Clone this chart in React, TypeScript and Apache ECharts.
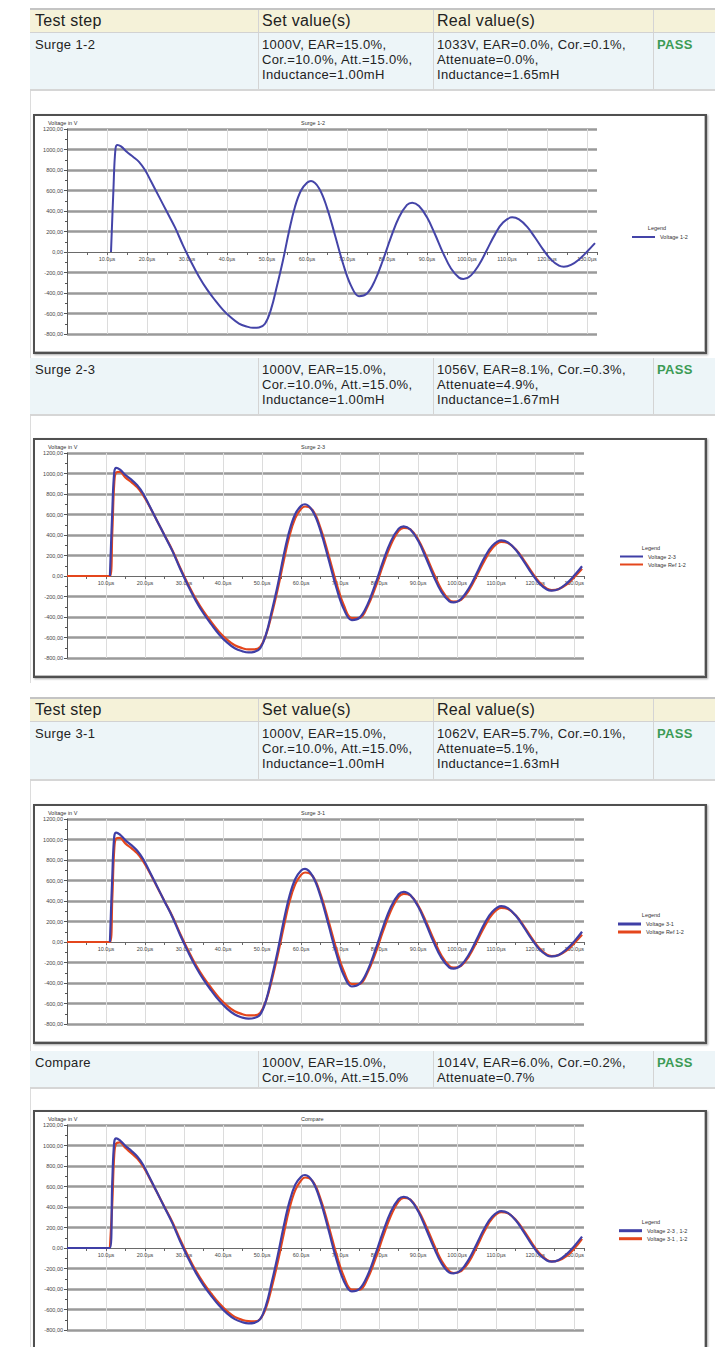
import React, { useEffect, useRef } from "react";
import * as echarts from "echarts";

// ---------- data ----------
const HEADER = ["Test step", "Set value(s)", "Real value(s)", ""];
const STEP_NAMES = ["Surge 1-2", "Surge 2-3", "Surge 3-1", "Compare"];
const SET_VALUES = [
  ["1000V, EAR=15.0%,", "Cor.=10.0%, Att.=15.0%,", "Inductance=1.00mH"],
  ["1000V, EAR=15.0%,", "Cor.=10.0%, Att.=15.0%,", "Inductance=1.00mH"],
  ["1000V, EAR=15.0%,", "Cor.=10.0%, Att.=15.0%,", "Inductance=1.00mH"],
  ["1000V, EAR=15.0%,", "Cor.=10.0%, Att.=15.0%"],
];
const REAL_VALUES = [
  ["1033V, EAR=0.0%, Cor.=0.1%,", "Attenuate=0.0%,", "Inductance=1.65mH"],
  ["1056V, EAR=8.1%, Cor.=0.3%,", "Attenuate=4.9%,", "Inductance=1.67mH"],
  ["1062V, EAR=5.7%, Cor.=0.1%,", "Attenuate=5.1%,", "Inductance=1.63mH"],
  ["1014V, EAR=6.0%, Cor.=0.2%,", "Attenuate=0.7%"],
];
const RESULTS = ["PASS", "PASS", "PASS", "PASS"];
const CHART_TITLES = ["Surge 1-2", "Surge 2-3", "Surge 3-1", "Compare"];
const Y_AXIS_NAME = "Voltage in V";
const LEGEND_TITLE = "Legend";

// time in µs
const TIME = [0, 11, 11.6, 12.1, 12.6, 13.5, 15, 16.5, 18, 19.5, 21, 23, 25, 27, 29, 31, 33, 35, 37, 39, 41, 43, 45, 46.5, 48, 49.5, 51, 52.5, 54, 55.5, 57, 58.5, 60, 61, 63, 65, 67, 69, 71, 73, 75, 77, 79, 81, 83, 85, 86.3, 88, 90, 92, 94, 96, 98, 99.1, 101, 103, 105, 107, 109, 111.3, 113, 115, 117, 119, 121, 123, 124.2, 126, 128, 130, 132];

// voltages in V
const V12 = [null, 0, 600, 1000, 1044, 1030, 975, 930, 880, 800, 690, 540, 390, 240, 65, -95, -241, -365, -470, -565, -640, -698, -728, -740, -736, -700, -560, -330, -80, 200, 442, 600, 675, 693, 623, 431, 164, -112, -328, -431, -405, -277, -78, 145, 339, 459, 481, 449, 338, 173, -8, -161, -250, -263, -228, -124, 22, 172, 287, 338, 318, 247, 141, 25, -74, -133, -143, -126, -73, 3, 86];
const V23 = [null, 0, 620, 1010, 1055, 1040, 985, 940, 885, 805, 695, 545, 395, 245, 70, -92, -240, -366, -472, -570, -648, -705, -735, -746, -740, -705, -570, -340, -90, 195, 440, 605, 684, 700, 630, 438, 168, -110, -328, -430, -406, -280, -82, 142, 338, 462, 485, 454, 343, 176, -5, -158, -248, -258, -224, -120, 26, 180, 296, 348, 328, 256, 148, 30, -70, -132, -143, -128, -74, 4, 95];
const REF12 = [0, 0, 420, 900, 1010, 1015, 960, 915, 865, 790, 690, 545, 398, 252, 82, -78, -222, -345, -450, -545, -620, -676, -705, -716, -716, -692, -575, -370, -130, 140, 390, 565, 655, 678, 640, 465, 210, -65, -290, -410, -408, -300, -115, 105, 305, 440, 470, 455, 355, 200, 25, -135, -235, -250, -232, -140, 0, 150, 270, 332, 322, 260, 160, 45, -58, -124, -137, -128, -85, -12, 70];
const V31 = [null, 0, 630, 1025, 1068, 1050, 992, 945, 890, 810, 700, 548, 396, 244, 68, -94, -242, -368, -475, -572, -650, -708, -738, -748, -742, -708, -572, -342, -88, 198, 446, 615, 698, 714, 640, 442, 170, -110, -330, -434, -408, -282, -80, 146, 342, 466, 490, 458, 346, 178, -4, -158, -250, -260, -226, -122, 26, 180, 296, 350, 330, 258, 150, 32, -68, -130, -141, -126, -72, 6, 100];
const CMP23 = [0, 0, 640, 1030, 1070, 1052, 995, 948, 892, 812, 700, 548, 396, 243, 66, -94, -240, -364, -468, -562, -638, -694, -724, -735, -730, -695, -560, -330, -76, 205, 450, 618, 696, 712, 645, 452, 180, -104, -326, -424, -398, -270, -68, 158, 355, 478, 500, 470, 358, 188, 6, -150, -240, -247, -215, -110, 40, 192, 308, 360, 342, 270, 160, 40, -62, -122, -133, -116, -62, 18, 111];
const CMP31 = [null, 0, 430, 905, 1020, 1030, 975, 925, 872, 796, 694, 548, 400, 254, 84, -76, -220, -342, -446, -540, -616, -672, -702, -714, -716, -694, -585, -380, -140, 130, 385, 565, 660, 688, 650, 478, 222, -55, -282, -405, -406, -300, -112, 110, 315, 455, 488, 472, 370, 215, 38, -124, -228, -244, -226, -136, 10, 165, 290, 350, 340, 276, 175, 58, -48, -116, -130, -122, -80, -6, 90];

const X_MIN = 0;
const X_MAX = 132.5;
const X_STEP = 10;
const Y_MIN = -800;
const Y_MAX = 1200;
const Y_STEP = 200;

// ---------- styles ----------
const BLUE = "#3f3fa6";
const RED = "#e4461c";
const FONT = "'Liberation Sans', Arial, Helvetica, sans-serif";
const GRID_TOP = 15;
const GRID_H = 205;
const GRID_COLOR = "#9a9a9a";

type SeriesSpec = { name: string; values: (number | null)[]; color: string; z: number; width: number };

type ChartProps = {
  top: number;
  title: string;
  series: SeriesSpec[];
  gridRight: number;
  legendLeft: number;
  legendTop: number;
  legendItemH: number;
  legendTitleX: number;
  legendTitleY: number;
};

function WaveChart(p: ChartProps) {
  const ref = useRef<HTMLDivElement>(null);
  useEffect(() => {
    if (!ref.current) return;
    const chart = echarts.init(ref.current, null, { renderer: "svg" });
    const small = { fontSize: 5.5, color: "#333", fontFamily: FONT };
    // distance of the zero line above the plot bottom
    const zeroOffset = (-Y_MIN / (Y_MAX - Y_MIN)) * GRID_H;
    // horizontal grid colours from min to max; the zero line is left to the x axis line
    const nLines = Math.round((Y_MAX - Y_MIN) / Y_STEP) + 1;
    const zeroIdx = Math.round(-Y_MIN / Y_STEP);
    const hColors = Array.from({ length: nLines }, (_, i) => (i === zeroIdx ? "rgba(0,0,0,0)" : GRID_COLOR));
    chart.setOption({
      animation: false,
      textStyle: { fontFamily: FONT },
      title: {
        text: p.title,
        left: 268,
        top: 5.5,
        padding: 0,
        textStyle: { fontSize: 5.5, fontWeight: "normal", color: "#333" },
      },
      grid: { left: 34, top: GRID_TOP, right: p.gridRight, height: GRID_H, containLabel: false },
      xAxis: {
        type: "value",
        min: X_MIN,
        max: X_MAX,
        interval: X_STEP,
        position: "bottom",
        offset: -zeroOffset,
        axisLine: { onZero: false, lineStyle: { color: "#6a6a6a", width: 1.2 } },
        axisTick: { show: true, length: 3, lineStyle: { color: "#666" } },
        minorTick: { show: true, splitNumber: 2, length: 3, lineStyle: { color: "#666" } },
        axisLabel: {
          ...small,
          color: "#444",
          margin: 4,
          showMinLabel: false,
          showMaxLabel: false,
          formatter: (v: number) => (v > 0 && Math.abs(v % 10) < 1e-6 ? v.toFixed(1) + "µs" : ""),
        },
        splitLine: { show: true, showMaxLine: false, lineStyle: { color: "#dcdcdc", width: 1 } },
      },
      yAxis: {
        type: "value",
        min: Y_MIN,
        max: Y_MAX,
        interval: Y_STEP,
        axisLine: { show: true, lineStyle: { color: "#555", width: 1 } },
        axisTick: { show: true, length: 3, lineStyle: { color: "#555" } },
        minorTick: { show: true, splitNumber: 2, length: 2, lineStyle: { color: "#555" } },
        axisLabel: {
          ...small,
          color: "#444",
          margin: 4,
          formatter: (v: number) => v.toFixed(2).replace(".", ","),
        },
        splitLine: { show: true, lineStyle: { color: hColors, width: 2.5 } },
      },
      legend: {
        orient: "vertical",
        left: p.legendLeft,
        top: p.legendTop,
        padding: 0,
        itemWidth: 23,
        itemHeight: p.legendItemH,
        itemGap: 1,
        icon: "rect",
        selectedMode: false,
        textStyle: { ...small, lineHeight: 7 },
        data: p.series.map((s) => s.name),
      },
      graphic: [
        {
          type: "text",
          left: 15,
          top: 5.5,
          style: { text: Y_AXIS_NAME, fontSize: 5.5, fill: "#333", fontFamily: FONT },
        },
        {
          type: "text",
          x: p.legendTitleX,
          y: p.legendTitleY,
          style: {
            text: LEGEND_TITLE,
            fontSize: 5.5,
            fill: "#333",
            fontFamily: FONT,
            align: "center",
            verticalAlign: "middle",
            textAlign: "center",
            textVerticalAlign: "middle",
          },
        },
      ],
      series: p.series.map((s) => ({
        type: "line",
        name: s.name,
        data: TIME.map((t, i) => [t, s.values[i]]),
        showSymbol: false,
        symbol: "none",
        smooth: 0.4,
        z: s.z,
        color: s.color,
        lineStyle: { color: s.color, width: s.width },
        itemStyle: { color: s.color },
      })),
    });
    return () => chart.dispose();
  }, []);
  return (
    <div style={{ position: "absolute", left: 33, top: p.top, width: 674, height: 240 }}>
      <div
        style={{
          position: "absolute",
          left: 0,
          top: 0,
          width: 674,
          height: 240,
          boxSizing: "border-box",
          border: "2px solid #505050",
          boxShadow: "1px 1px 2px rgba(0,0,0,0.35), inset -1px -1px 0 #bdbdbd",
          background: "#fff",
        }}
      />
      <div ref={ref} style={{ position: "absolute", left: 0, top: 0, width: 674, height: 240 }} />
    </div>
  );
}

const COL_LINES = [258, 433, 653];
const COL_TEXT = [35, 262, 437, 657];

function HeaderRow({ top }: { top: number }) {
  return (
    <div
      style={{
        position: "absolute",
        left: 30,
        top,
        width: 685,
        height: 25,
        boxSizing: "border-box",
        background: "#f5f2d9",
        borderTop: "2px solid #c4c4c4",
        borderBottom: "1px solid #d2d2d2",
      }}
    >
      {COL_LINES.map((x) => (
        <div key={x} style={{ position: "absolute", left: x - 30, top: 0, width: 1, height: "100%", background: "#d4d4d4" }} />
      ))}
      {HEADER.map((h, i) => (
        <div
          key={i}
          style={{
            position: "absolute",
            left: COL_TEXT[i] - 30,
            top: 0,
            lineHeight: "22px",
            fontSize: 16,
            letterSpacing: 0.3,
            fontFamily: FONT,
            color: "#222",
            whiteSpace: "nowrap",
          }}
        >
          {h}
        </div>
      ))}
    </div>
  );
}

function DataRow({ top, height, idx }: { top: number; height: number; idx: number }) {
  const cell = (x: number, lines: string[], extra?: React.CSSProperties) => (
    <div
      style={{
        position: "absolute",
        left: x - 30,
        top: 4,
        fontSize: 13,
        lineHeight: "15px",
        letterSpacing: 0.35,
        fontFamily: FONT,
        color: "#222",
        whiteSpace: "nowrap",
        ...extra,
      }}
    >
      {lines.map((l, k) => (
        <div key={k}>{l}</div>
      ))}
    </div>
  );
  return (
    <div
      style={{
        position: "absolute",
        left: 30,
        top,
        width: 685,
        height,
        boxSizing: "border-box",
        background: "#edf5f8",
        borderBottom: "2px solid #d6d6d6",
      }}
    >
      {COL_LINES.map((x) => (
        <div key={x} style={{ position: "absolute", left: x - 30, top: 0, width: 1, height: "100%", background: "#d4d4d4" }} />
      ))}
      {cell(COL_TEXT[0], [STEP_NAMES[idx]])}
      {cell(COL_TEXT[1], SET_VALUES[idx])}
      {cell(COL_TEXT[2], REAL_VALUES[idx])}
      {cell(COL_TEXT[3], [RESULTS[idx]], { color: "#3c9b55", fontWeight: "bold" })}
    </div>
  );
}

export default function App() {
  const s1: SeriesSpec[] = [{ name: "Voltage 1-2", values: V12, color: "#4444a8", z: 3, width: 2 }];
  const s2: SeriesSpec[] = [
    { name: "Voltage 2-3", values: V23, color: BLUE, z: 3, width: 2.2 },
    { name: "Voltage Ref 1-2", values: REF12, color: RED, z: 2, width: 2.2 },
  ];
  const s3: SeriesSpec[] = [
    { name: "Voltage 3-1", values: V31, color: BLUE, z: 3, width: 2.2 },
    { name: "Voltage Ref 1-2", values: REF12, color: RED, z: 2, width: 2.2 },
  ];
  const s4: SeriesSpec[] = [
    { name: "Voltage 2-3 , 1-2", values: CMP23, color: BLUE, z: 3, width: 2.2 },
    { name: "Voltage 3-1 , 1-2", values: CMP31, color: RED, z: 2, width: 2.2 },
  ];
  return (
    <div
      style={{
        position: "absolute",
        left: 0,
        top: 0,
        width: 715,
        height: 1347,
        overflow: "hidden",
        background: "#fff",
        fontFamily: FONT,
      }}
    >
      <div style={{ position: "absolute", left: 30, top: 8, width: 1, height: 675, background: "#dcdcdc" }} />
      <div style={{ position: "absolute", left: 30, top: 697, width: 1, height: 650, background: "#dcdcdc" }} />

      <HeaderRow top={8} />
      <DataRow top={33} height={58} idx={0} />
      <WaveChart
        top={114}
        title={CHART_TITLES[0]}
        series={s1}
        gridRight={110}
        legendLeft={599}
        legendTop={119.5}
        legendItemH={2}
        legendTitleX={624}
        legendTitleY={114}
      />
      <DataRow top={358} height={58} idx={1} />
      <WaveChart
        top={438}
        title={CHART_TITLES[1]}
        series={s2}
        gridRight={123}
        legendLeft={587}
        legendTop={115}
        legendItemH={2}
        legendTitleX={618}
        legendTitleY={109.5}
      />
      <HeaderRow top={697} />
      <DataRow top={722} height={59} idx={2} />
      <WaveChart
        top={804}
        title={CHART_TITLES[2]}
        series={s3}
        gridRight={123}
        legendLeft={585}
        legendTop={116.5}
        legendItemH={3}
        legendTitleX={618}
        legendTitleY={111}
      />
      <DataRow top={1051} height={38} idx={3} />
      <WaveChart
        top={1110}
        title={CHART_TITLES[3]}
        series={s4}
        gridRight={123}
        legendLeft={586}
        legendTop={117.2}
        legendItemH={3}
        legendTitleX={618}
        legendTitleY={111.7}
      />
    </div>
  );
}
